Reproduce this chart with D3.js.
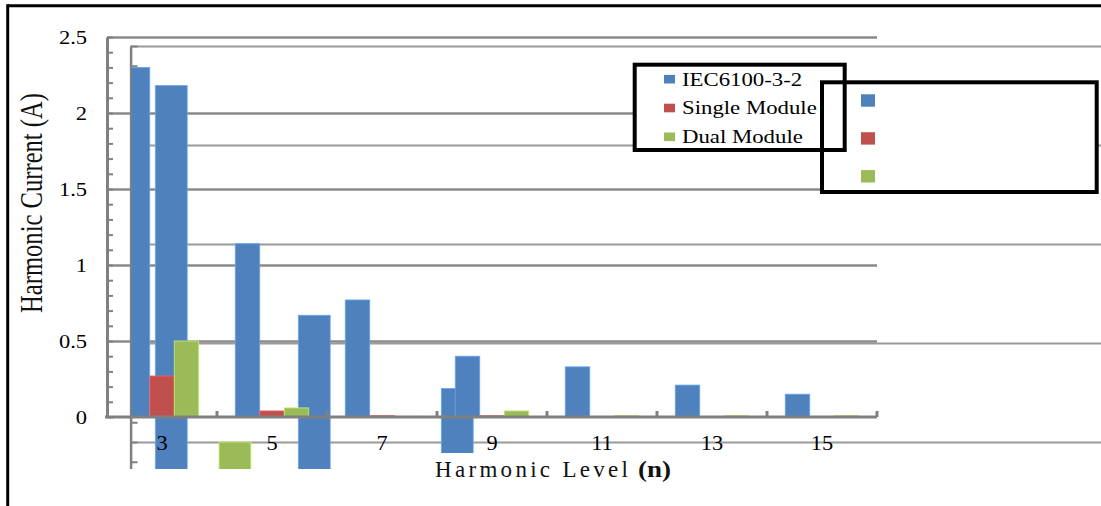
<!DOCTYPE html>
<html>
<head>
<meta charset="utf-8">
<script src="https://cdn.jsdelivr.net/npm/d3@7"></script>
<style>
  html, body { margin: 0; padding: 0; background: #fff; }
  svg { display: block; }
</style>
</head>
<body>
<div id="chart"></div>
<script>
// Harmonic current data (A)
const harmonics = ['3', '5', '7', '9', '11', '13', '15'];
const seriesNames = ['IEC6100-3-2', 'Single Module', 'Dual Module'];
const iecLimit = [2.30, 1.14, 0.77, 0.40, 0.33, 0.21, 0.15];
const singleModule = [0.27, 0.04, 0.01, 0.01, 0.002, 0.002, 0.002];
const dualModule = [0.50, 0.06, 0.005, 0.04, 0.01, 0.01, 0.01];
const yTickValues = [0, 0.5, 1, 1.5, 2, 2.5];
const yTickLabels = ['0', '0.5', '1', '1.5', '2', '2.5'];
const colors = ['#4F81BD', '#C0504D', '#9BBB59'];

const seriesValues = [iecLimit, singleModule, dualModule];
const rows = harmonics.map((h, i) => ({
    h,
    values: seriesNames.map((s, k) => ({ s, k, v: seriesValues[k][i] }))
}));

const W = 1101, H = 506;
const svg = d3.select('#chart').append('svg')
    .attr('width', W)
    .attr('height', H);

svg.append('rect').attr('width', W).attr('height', H).attr('fill', '#fff');

// primary scales
const x0 = d3.scaleBand().domain(harmonics).range([107, 877]);
const x1 = d3.scaleBand().domain(seriesNames).range([0, x0.bandwidth()]).paddingOuter(0.745);
const y = d3.scaleLinear().domain([0, 2.5]).range([417, 37]);

// second (enlarged, offset) copy of the plot that shows through
const ghostK = 1.3;
const gx0 = x0.copy().range(x0.range().map(v => v * ghostK - 7.5));
const gx1 = x1.copy().range(x1.range().map(v => v * ghostK));
const gy = y.copy().range([541, 46]);
const ghostLeft = gx0.range()[0] - 1;

const defs = svg.append('defs');
const gclip = defs.append('clipPath').attr('id', 'ghostClip');
gclip.append('rect').attr('x', ghostLeft - 3).attr('y', 0).attr('width', 440 - ghostLeft + 3).attr('height', 469);
gclip.append('rect').attr('x', 440).attr('y', 0).attr('width', W - 440).attr('height', 453);
defs.append('clipPath').attr('id', 'barClip')
    .append('rect').attr('x', ghostLeft + 1).attr('y', 0).attr('width', W).attr('height', H);

// primary gridlines
svg.append('g')
    .attr('class', 'grid')
    .attr('transform', `translate(${x0.range()[0]},0)`)
    .call(d3.axisLeft(y).tickValues(yTickValues.slice(1)).tickSize(-(x0.range()[1] - x0.range()[0])).tickFormat(''))
    .call(g => g.select('.domain').remove())
    .call(g => g.selectAll('line').attr('stroke', '#8a8a8a').attr('stroke-width', 2.5));

// ghost gridlines
const ghostLayer = svg.append('g').attr('clip-path', 'url(#ghostClip)');
ghostLayer.append('g')
    .attr('transform', `translate(${ghostLeft},0)`)
    .call(d3.axisLeft(gy).tickValues(yTickValues.slice(1)).tickSize(-(gx0.range()[1] - ghostLeft)).tickFormat(''))
    .call(g => g.select('.domain').remove())
    .call(g => g.selectAll('line').attr('stroke', '#9a9a9a').attr('stroke-width', 2));

// ghost bars
ghostLayer.append('g')
    .selectAll('g')
    .data(rows)
    .join('g')
    .attr('transform', d => `translate(${gx0(d.h)},0)`)
    .selectAll('rect')
    .data(d => d.values)
    .join('rect')
    .attr('x', d => gx1(d.s))
    .attr('y', d => gy(d.v))
    .attr('width', gx1.bandwidth())
    .attr('height', d => gy(0) - gy(d.v))
    .attr('fill', d => colors[d.k])
    .attr('stroke', d => d3.color(colors[d.k]).brighter(0.7))
    .attr('stroke-width', 0.8);

// primary bars
svg.append('g')
    .attr('clip-path', 'url(#barClip)')
    .selectAll('g')
    .data(rows)
    .join('g')
    .attr('transform', d => `translate(${x0(d.h)},0)`)
    .selectAll('rect')
    .data(d => d.values)
    .join('rect')
    .attr('x', d => x1(d.s))
    .attr('y', d => y(d.v))
    .attr('width', x1.bandwidth())
    .attr('height', d => y(0) - y(d.v))
    .attr('fill', d => colors[d.k])
    .attr('stroke', d => d3.color(colors[d.k]).brighter(0.7))
    .attr('stroke-width', 0.8);

// primary axes
const axisColor = '#808080';
svg.append('g')
    .attr('transform', `translate(${x0.range()[0]},0)`)
    .call(d3.axisRight(y).tickValues(d3.range(0, 26).map(i => i / 10)).tickSize(6).tickSizeOuter(0).tickFormat(''))
    .call(g => g.select('.domain').attr('stroke', axisColor).attr('stroke-width', 3))
    .call(g => g.selectAll('.tick line').attr('stroke', axisColor).attr('stroke-width', 2));

const xBounds = harmonics.map(h => x0(h)).concat([x0.range()[1]]);
const xAxis = svg.append('g');
xAxis.append('line')
    .attr('x1', x0.range()[0] - 2).attr('x2', x0.range()[1])
    .attr('y1', y(0)).attr('y2', y(0))
    .attr('stroke', axisColor).attr('stroke-width', 3);
xAxis.selectAll('.xtick')
    .data(xBounds.slice(1))
    .join('line')
    .attr('class', 'xtick')
    .attr('x1', d => d).attr('x2', d => d)
    .attr('y1', y(0)).attr('y2', y(0) - 6)
    .attr('stroke', axisColor).attr('stroke-width', 3);

// ghost value axis
ghostLayer.append('g')
    .attr('transform', `translate(${ghostLeft},0)`)
    .call(d3.axisRight(gy).tickValues(d3.range(3, 26).map(i => i / 10)).tickSize(7).tickSizeOuter(0).tickFormat(''))
    .call(g => g.select('.domain').attr('stroke', axisColor).attr('stroke-width', 2.5))
    .call(g => g.selectAll('.tick line').attr('stroke', axisColor).attr('stroke-width', 2));

// y tick labels
svg.append('g')
    .selectAll('text')
    .data(yTickValues)
    .join('text')
    .attr('transform', d => `translate(87,${y(d) + 1}) scale(1.25,1)`)
    .attr('text-anchor', 'end')
    .attr('dominant-baseline', 'central')
    .attr('font-family', '"Liberation Serif", serif')
    .attr('font-size', 18)
    .attr('fill', '#000')
    .text((d, i) => yTickLabels[i]);

// x tick labels
svg.append('g')
    .selectAll('text')
    .data(harmonics)
    .join('text')
    .attr('transform', d => `translate(${x0(d) + x0.bandwidth() / 2},${y(0) + 26}) scale(1.12,1)`)
    .attr('text-anchor', 'middle')
    .attr('dominant-baseline', 'central')
    .attr('font-family', '"Liberation Serif", serif')
    .attr('font-size', 20)
    .attr('fill', '#000')
    .text(d => d);

// axis titles
svg.append('text')
    .attr('transform', 'translate(42,203) rotate(-90)')
    .attr('text-anchor', 'middle')
    .attr('font-family', '"Liberation Serif", serif')
    .attr('font-size', 32)
    .attr('textLength', 220)
    .attr('lengthAdjust', 'spacingAndGlyphs')
    .attr('fill', '#111')
    .text('Harmonic Current (A)');

svg.append('text')
    .attr('x', 435).attr('y', 477)
    .attr('font-family', '"Liberation Serif", serif')
    .attr('font-size', 23)
    .attr('textLength', 193)
    .attr('lengthAdjust', 'spacing')
    .attr('fill', '#111')
    .text('Harmonic Level');
svg.append('text')
    .attr('x', 638).attr('y', 477)
    .attr('font-family', '"Liberation Serif", serif')
    .attr('font-weight', 'bold')
    .attr('font-size', 24)
    .attr('textLength', 33)
    .attr('lengthAdjust', 'spacingAndGlyphs')
    .attr('fill', '#111')
    .text('(n)');

// legends: the real one and an enlarged empty copy
const box1 = { x: 634.7, y: 64.7, w: 210, h: 85.3 };
const box2 = { x: 822, y: 82.3, w: 274.7, h: 109.7 };
[box2, box1].forEach(b => {
    svg.append('rect').attr('x', b.x).attr('y', b.y).attr('width', b.w).attr('height', b.h).attr('fill', '#fff');
});
[box2, box1].forEach(b => {
    svg.append('rect').attr('x', b.x).attr('y', b.y).attr('width', b.w).attr('height', b.h)
        .attr('fill', 'none').attr('stroke', '#000').attr('stroke-width', 4);
});

const leg1 = svg.append('g').selectAll('g')
    .data(seriesNames)
    .join('g')
    .attr('transform', (d, i) => `translate(664,${79.2 + i * 28.8})`);
leg1.append('rect')
    .attr('x', 0).attr('y', -4.3).attr('width', 11).attr('height', 8.6)
    .attr('fill', (d, i) => colors[i]);
leg1.append('text')
    .attr('transform', 'translate(18,0) scale(1.2,1)')
    .attr('dominant-baseline', 'central')
    .attr('font-family', '"Liberation Serif", serif')
    .attr('font-size', 19)
    .attr('fill', '#000')
    .text(d => d);

svg.append('g').selectAll('rect')
    .data(seriesNames)
    .join('rect')
    .attr('x', 861)
    .attr('y', (d, i) => 100.5 + i * 37.9 - 6.2)
    .attr('width', 14).attr('height', 12.4)
    .attr('fill', (d, i) => colors[i]);

// outer frame
svg.append('line').attr('x1', 7.7).attr('x2', W).attr('y1', 5.7).attr('y2', 5.7)
    .attr('stroke', '#000').attr('stroke-width', 3);
svg.append('line').attr('x1', 7.7).attr('x2', 7.7).attr('y1', 4.2).attr('y2', H)
    .attr('stroke', '#000').attr('stroke-width', 3);
</script>
</body>
</html>
